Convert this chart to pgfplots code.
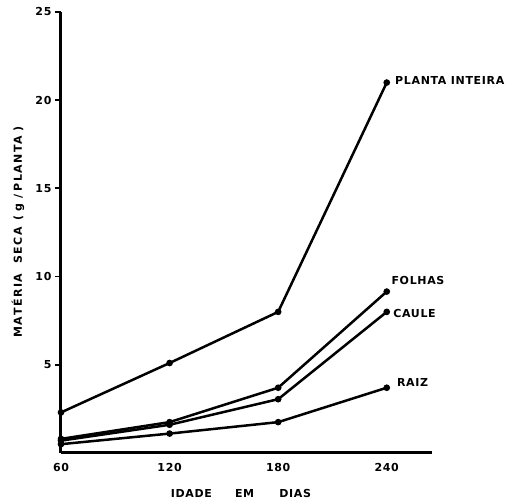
\documentclass[border=0pt]{standalone}
\usepackage{pgfplots}
\pgfplotsset{compat=1.18}
\usepackage{fontspec}
\setmainfont{DejaVu Sans}[LetterSpace=6]
\newfontfamily\widefont{DejaVu Sans}[LetterSpace=14]
\newcommand{\lf}{\bfseries\fontsize{11}{12}\selectfont}
\pgfplotsset{myline/.style={black,line width=2.5pt,mark=*,mark size=2pt,mark options={solid,fill=black}}}
\begin{document}
\begin{tikzpicture}[x=1pt,y=1pt]
\useasboundingbox (-61pt,-50pt) rectangle (464pt,453pt);
\begin{axis}[
  at={(0,0)}, anchor=south west,
  scale only axis, width=371pt, height=441pt,
  xmin=60, xmax=265, ymin=0, ymax=25,
  axis lines=left,
  x axis line style={line width=3pt,-},
  y axis line style={line width=3pt,-},
  xtick={60,120,180,240}, ytick={5,10,15,20,25},
  x tick style={draw=none},
  y tick style={line width=1.8pt,black}, tick align=outside, major tick length=6pt,
  tick label style={font=\lf},
  xticklabel style={yshift=-1pt},
  /pgf/number format/assume math mode=true,
  clip=false,
]
\addplot[myline] coordinates {(60,2.3) (120,5.1) (180,8.0) (240,21.0)};
\addplot[myline] coordinates {(60,0.8) (120,1.75) (180,3.7) (240,9.15)};
\addplot[myline] coordinates {(60,0.7) (120,1.6) (180,3.05) (240,8.0)};
\addplot[myline] coordinates {(60,0.5) (120,1.1) (180,1.75) (240,3.7)};
\node[anchor=west,font=\lf,inner sep=1pt] at (axis cs:244,21.1) {PLANTA INTEIRA};
\node[anchor=west,font=\lf,inner sep=1pt] at (axis cs:242,9.8) {FOLHAS};
\node[anchor=west,font=\lf,inner sep=1pt] at (axis cs:243,7.9) {CAULE};
\node[anchor=west,font=\lf,inner sep=1pt] at (axis cs:245,4.0) {RAIZ};
\node[font=\lf] at (180pt,-40pt) {IDADE\hspace{2.1em}EM\hspace{2.3em}DIAS};
\node[rotate=90,font=\lf\widefont] at (-43pt,221pt) {MATÉRIA\hspace{0.9em}SECA\hspace{0.6em}(\hspace{0.4em}g\hspace{0.4em}/\hspace{0.3em}PLANTA\hspace{0.4em})};
\end{axis}
\end{tikzpicture}
\end{document}
